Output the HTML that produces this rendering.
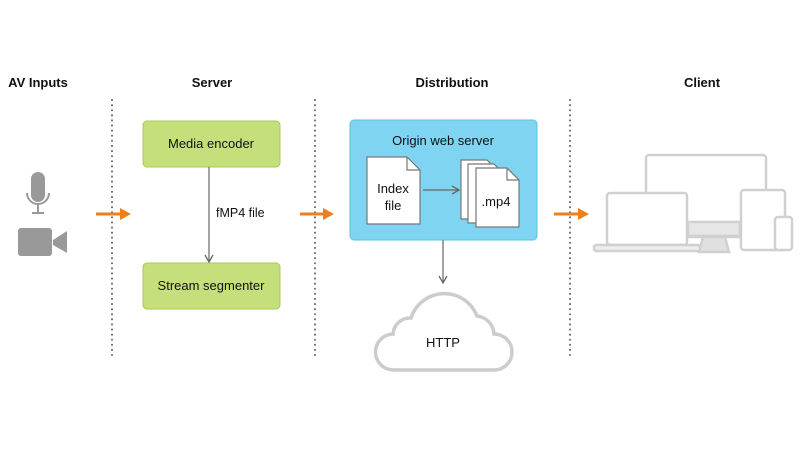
<!DOCTYPE html>
<html><head><style>body{margin:0;background:#fff}svg{display:block}text{font-family:"Liberation Sans",sans-serif;fill:#111}</style></head><body>
<svg width="800" height="450" viewBox="0 0 800 450" xmlns="http://www.w3.org/2000/svg">
<defs>
<marker id="g" markerWidth="10" markerHeight="10" refX="8" refY="5" orient="auto" markerUnits="userSpaceOnUse"><path d="M1,1 L8,5 L1,9" fill="none" stroke="#666" stroke-width="1.3"/></marker>
</defs>
<g font-size="13" font-weight="bold" text-anchor="middle">
<text x="38" y="87">AV Inputs</text><text x="212" y="87">Server</text><text x="452" y="87">Distribution</text><text x="702" y="87">Client</text>
</g>
<g stroke="#666" stroke-width="2" stroke-dasharray="0.1 5" stroke-linecap="round">
<line x1="112" y1="100" x2="112" y2="355"/><line x1="315" y1="100" x2="315" y2="355"/><line x1="570" y1="100" x2="570" y2="355"/>
</g>
<g fill="#f07f1a">
<rect x="96" y="212.5" width="25" height="3"/><path d="M120,208 L131,214 L120,220Z"/>
<rect x="300" y="212.5" width="24" height="3"/><path d="M323,208 L334,214 L323,220Z"/>
<rect x="554" y="212.5" width="25" height="3"/><path d="M578,208 L589,214 L578,220Z"/>
</g>
<rect x="31" y="172" width="14" height="30" rx="7" fill="#999"/>
<path d="M27,193 a11,11 0 0 0 22,0" fill="none" stroke="#999" stroke-width="2"/>
<line x1="38" y1="204" x2="38" y2="212" stroke="#999" stroke-width="2"/>
<line x1="32" y1="213" x2="44" y2="213" stroke="#999" stroke-width="2"/>
<rect x="18" y="228" width="34" height="28" rx="3" fill="#999"/>
<path d="M53,240 L67,231 L67,253 L53,245Z" fill="#999"/>
<rect x="143" y="121" width="137" height="46" rx="4" fill="#c5e07a" stroke="#a9c85a"/>
<text x="211" y="148" font-size="13" text-anchor="middle">Media encoder</text>
<rect x="143" y="263" width="137" height="46" rx="4" fill="#c5e07a" stroke="#a9c85a"/>
<text x="211" y="290" font-size="13" text-anchor="middle">Stream segmenter</text>
<line x1="209" y1="167" x2="209" y2="262" stroke="#666" stroke-width="1.2" marker-end="url(#g)"/>
<text x="216" y="217" font-size="12.5">fMP4 file</text>
<rect x="350" y="120" width="187" height="120" rx="4" fill="#7fd4f2" stroke="#5fc0e3"/>
<text x="443" y="145" font-size="13" text-anchor="middle">Origin web server</text>
<g fill="#fff" stroke="#777" stroke-width="1.2">
<path d="M367,157 h40 l13,13 v54 h-53Z"/>
<path d="M461,160 h26 l12,12 v47 h-38Z"/>
<path d="M468,164 h26 l12,12 v47 h-38Z"/>
<path d="M476,168 h31 l12,12 v47 h-43Z"/>
</g>
<g fill="none" stroke="#777" stroke-width="1.2"><path d="M407,157 v13 h13"/><path d="M507,168 v12 h12"/></g>
<text x="393" y="193" font-size="13" text-anchor="middle">Index</text>
<text x="393" y="210" font-size="13" text-anchor="middle">file</text>
<text x="496" y="206" font-size="13" text-anchor="middle">.mp4</text>
<line x1="423" y1="190" x2="459" y2="190" stroke="#666" stroke-width="1.2" marker-end="url(#g)"/>
<line x1="443" y1="240" x2="443" y2="283" stroke="#666" stroke-width="1.2" marker-end="url(#g)"/>
<path d="M394,370 A18,18 0 0 1 393,334 A17,17 0 0 1 411,318 A35,35 0 0 1 477,316 A19,19 0 0 1 494,334 A18,18 0 0 1 494,370 Z" fill="#fff" stroke="#ccc" stroke-width="3.5"/>
<text x="443" y="347" font-size="13" text-anchor="middle">HTTP</text>
<g fill="#fff" stroke="#d0d0d0" stroke-width="2.5">
<rect x="646" y="155" width="120" height="82" rx="3"/>
<rect x="688" y="222" width="52" height="14" fill="#e6e6e6"/>
<path d="M703,237 h22 l4,15 h-30Z" fill="#e0e0e0"/>
<rect x="607" y="193" width="80" height="52" rx="3"/>
<rect x="594" y="245" width="106" height="6" rx="2" fill="#eee"/>
<rect x="741" y="190" width="44" height="60" rx="3"/>
<rect x="775" y="217" width="17" height="33" rx="3"/>
</g>
</svg>
</body></html>
